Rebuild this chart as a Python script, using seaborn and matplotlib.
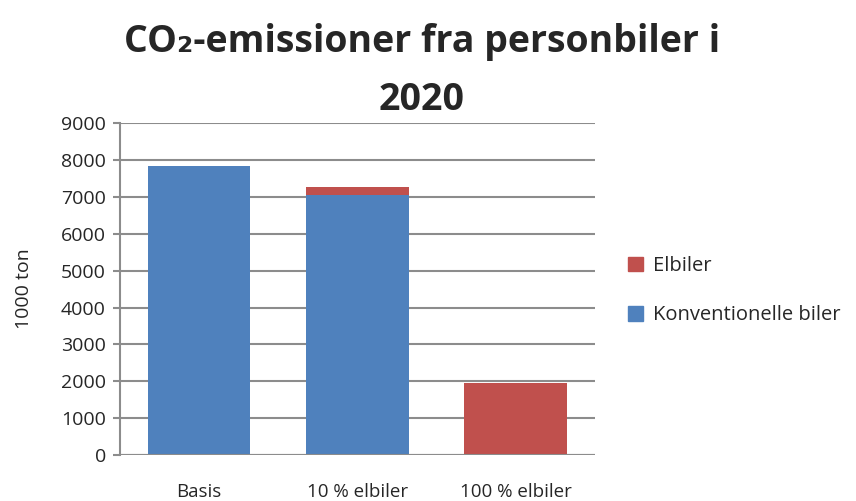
import numpy as np
import pandas as pd
import matplotlib
matplotlib.use('Agg')
import matplotlib.pyplot as plt
import seaborn as sns
from matplotlib.patches import Patch

# Data (1000 ton)
scenarios = ['Basis', '10 % elbiler', '100 % elbiler']
konventionelle = [7830, 7040, 0]
elbiler = [0, 220, 1950]

blue = '#4F81BD'
red = '#C0504D'
grid_col = '#8C8C8C'

df = pd.DataFrame({'scenario': scenarios, 'konv': konventionelle, 'el': elbiler})
df['total'] = df['konv'] + df['el']

sns.set_style('white')
plt.rcParams['font.family'] = ['Open Sans', 'DejaVu Sans']

fig = plt.figure(figsize=(8.56, 5.01), dpi=100)
ax = fig.add_axes([0.140, 0.092, 0.555, 0.662])

# Stacked bars: draw the total (red) first, then the conventional part on top
sns.barplot(data=df, x='scenario', y='total', color=red, width=0.65, ax=ax,
            saturation=1, linewidth=0, zorder=3)
sns.barplot(data=df, x='scenario', y='konv', color=blue, width=0.65, ax=ax,
            saturation=1, linewidth=0, zorder=4)

ax.set_ylim(0, 9000)
ax.set_yticks(np.arange(0, 9001, 1000))
ax.yaxis.grid(True, color=grid_col, linewidth=1.5, zorder=0)
ax.set_axisbelow(True)
for s in ['top', 'right', 'bottom']:
    ax.spines[s].set_visible(False)
ax.spines['left'].set_color(grid_col)
ax.spines['left'].set_linewidth(1.5)
ax.tick_params(axis='y', which='both', left=True, length=5, width=1.5,
               color=grid_col, labelsize=14, pad=5)
ax.tick_params(axis='x', bottom=False, labelsize=13.5, pad=17)
ax.set_xlabel('')
ax.set_ylabel('1000 ton', fontsize=14, labelpad=20)
ax.axhline(0, color=grid_col, linewidth=1.5, zorder=5)

handles = [Patch(color=red, label='Elbiler'),
           Patch(color=blue, label='Konventionelle biler')]
fig.legend(handles=handles, loc='center left', bbox_to_anchor=(0.712, 0.42),
           frameon=False, fontsize=14.5, handlelength=0.75, handleheight=0.75,
           labelspacing=1.45, handletextpad=0.5)

fig.text(0.493, 0.955, 'CO₂-emissioner fra personbiler i\n2020',
         ha='center', va='top', fontsize=27, fontweight='bold',
         linespacing=1.7)

fig.savefig('out.png', dpi=100)
